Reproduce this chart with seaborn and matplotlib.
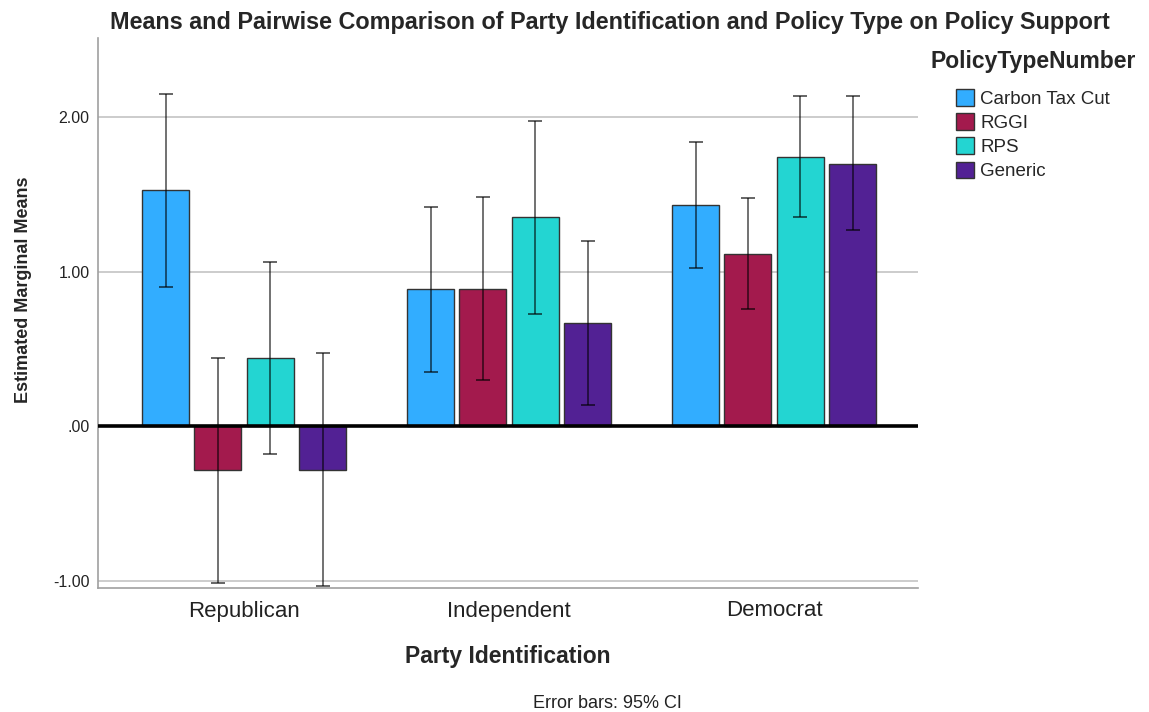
import numpy as np
import pandas as pd
import matplotlib
matplotlib.use("Agg")
import matplotlib.pyplot as plt
from matplotlib.container import BarContainer
import seaborn as sns

# ---- data ----
parties = ["Republican", "Independent", "Democrat"]
policies = ["Carbon Tax Cut", "RGGI", "RPS", "Generic"]
# means per policy, ordered by party
mean_carbon = [1.527, 0.887, 1.430]
mean_rggi = [-0.283, 0.891, 1.117]
mean_rps = [0.441, 1.354, 1.742]
mean_generic = [-0.283, 0.669, 1.699]
# 95% CI lower / upper bounds
lo_carbon = [0.904, 0.352, 1.024]
hi_carbon = [2.149, 1.419, 1.837]
lo_rggi = [-1.010, 0.299, 0.758]
hi_rggi = [0.445, 1.484, 1.477]
lo_rps = [-0.180, 0.729, 1.354]
hi_rps = [1.061, 1.975, 2.132]
lo_generic = [-1.031, 0.137, 1.268]
hi_generic = [0.473, 1.199, 2.132]
colors = ["#32ADFF", "#A31A4D", "#23D5D2", "#522194"]

means = [mean_carbon, mean_rggi, mean_rps, mean_generic]
los = [lo_carbon, lo_rggi, lo_rps, lo_generic]
his = [hi_carbon, hi_rggi, hi_rps, hi_generic]

rows = []
for p_i, pol in enumerate(policies):
    for j, party in enumerate(parties):
        rows.append({"Party Identification": party, "PolicyTypeNumber": pol,
                     "mean": means[p_i][j]})
df = pd.DataFrame(rows)

sns.set_style("white")
plt.rcParams["font.family"] = ["Liberation Sans", "DejaVu Sans"]

fig = plt.figure(figsize=(11.49, 7.12), dpi=100)
ax = fig.add_axes([98 / 1149, 1 - 588 / 712, 820 / 1149, 550 / 712])

sns.barplot(data=df, x="Party Identification", y="mean", hue="PolicyTypeNumber",
            order=parties, hue_order=policies, palette=colors,
            width=0.79, gap=0.1, edgecolor="#333333", linewidth=1.0,
            errorbar=None, saturation=1, ax=ax, zorder=2)

# error bars from bar positions
bar_conts = [c for c in ax.containers if isinstance(c, BarContainer)]
for h_i, cont in enumerate(bar_conts):
    for j, patch in enumerate(cont.patches):
        xc = patch.get_x() + patch.get_width() / 2
        m = means[h_i][j]
        ax.errorbar(xc, m, yerr=[[m - los[h_i][j]], [his[h_i][j] - m]],
                    fmt="none", ecolor="black", alpha=0.65, elinewidth=1.2,
                    capsize=5, capthick=1.3, zorder=4)

ax.axhline(0, color="black", lw=2.6, zorder=3)

ax.set_xlim(-0.551, 2.543)
ax.set_ylim(-1.044, 2.51)
ax.set_yticks([-1, 0, 1, 2])
ax.set_yticklabels(["-1.00", ".00", "1.00", "2.00"])
ax.yaxis.grid(True, color="#BEBEBE", lw=1.1)
ax.set_axisbelow(True)
ax.tick_params(axis="y", length=0, pad=6, labelsize=11.5, labelcolor="#222222")
ax.tick_params(axis="x", length=0, pad=9, labelsize=16, labelcolor="#222222")

for s in ["top", "right"]:
    ax.spines[s].set_visible(False)
for s in ["left", "bottom"]:
    ax.spines[s].set_color("#A0A0A0")
    ax.spines[s].set_linewidth(1.2)

ax.set_xlabel("Party Identification", fontsize=16.5, fontweight="bold", va="top")
ax.xaxis.set_label_coords(0.5, -0.104)
ax.set_ylabel("Estimated Marginal Means", fontsize=13, fontweight="bold")
ax.yaxis.set_label_coords(-0.08, 0.542)

fig.text(610 / 1149, 1 - 22 / 712,
         "Means and Pairwise Comparison of Party Identification and Policy Type on Policy Support",
         ha="center", va="center", fontsize=16.8, fontweight="bold")
fig.text(607 / 1149, 1 - 703 / 712, "Error bars: 95% CI", ha="center", va="center",
         fontsize=13, color="#222222")

leg = ax.legend(loc="upper left", bbox_to_anchor=(930 / 1149, 1 - 50 / 712),
                bbox_transform=fig.transFigure, frameon=False, fontsize=13.5,
                title="PolicyTypeNumber", handlelength=1.0, handleheight=1.0,
                handletextpad=0.3, labelspacing=0.28, borderpad=0, borderaxespad=0)
leg.get_title().set_fontsize(16.5)
leg.get_title().set_fontweight("bold")
leg._legend_box.sep = 0.28 * 13.5 + 8

fig.savefig("out.png", dpi=100)
